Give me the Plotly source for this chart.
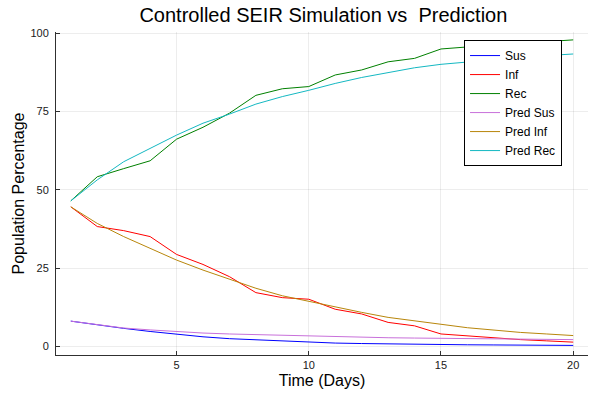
import plotly.graph_objects as go

# Days of the simulation
days = list(range(1, 21))

# Simulated (controlled SEIR) trajectories, in % of population
sus = [8.1, 6.9, 5.8, 4.8, 3.9, 3.1, 2.5, 2.1, 1.7, 1.3,
       1.1, 0.95, 0.8, 0.7, 0.6, 0.55, 0.5, 0.45, 0.4, 0.35]
inf = [44.6, 38.3, 37.0, 35.1, 29.4, 26.2, 22.3, 17.2, 15.6, 15.1,
       11.9, 10.4, 7.7, 6.6, 4.0, 3.4, 2.7, 2.2, 1.8, 1.4]
rec = [46.5, 54.2, 56.8, 59.3, 66.2, 70.0, 74.5, 80.2, 82.3, 83.0,
       86.7, 88.3, 90.9, 92.0, 95.0, 95.7, 96.3, 96.8, 97.3, 97.9]

# Model predictions
pred_sus = [8.1, 6.9, 5.9, 5.3, 4.7, 4.3, 4.0, 3.8, 3.6, 3.3,
            3.0, 2.9, 2.8, 2.7, 2.6, 2.5, 2.4, 2.35, 2.3, 2.2]
pred_inf = [44.6, 39.3, 35.1, 31.3, 27.6, 24.4, 21.6, 18.6, 16.2, 14.4,
            12.5, 10.9, 9.3, 8.1, 7.1, 6.0, 5.2, 4.5, 4.0, 3.5]
pred_rec = [46.5, 53.2, 59.0, 63.3, 67.5, 71.3, 74.2, 77.4, 79.8, 81.8,
            84.0, 85.9, 87.5, 89.0, 90.1, 90.9, 91.7, 92.3, 92.9, 93.4]

x_ticks = [5, 10, 15, 20]
y_ticks = [0, 25, 50, 75, 100]

series = [
    ("Sus", sus, "#0000FF"),
    ("Inf", inf, "#FF0000"),
    ("Rec", rec, "#008000"),
    ("Pred Sus", pred_sus, "#C870DA"),
    ("Pred Inf", pred_inf, "#B8860B"),
    ("Pred Rec", pred_rec, "#14B8C2"),
]

general_config = {
    "displayModeBar": False,  # no toolbar over the title
    "displaylogo": False,
}

fig = go.Figure()

for name, vals, col in series:
    fig.add_trace(
        go.Scatter(
            x=days,
            y=vals,
            mode="lines",
            name=name,
            line=dict(color=col, width=1),
        )
    )

axis_font = dict(family="Liberation Sans", size=11, color="#202020")
title_font = dict(family="Liberation Sans", size=16, color="black")

fig.update_layout(
    width=600,
    height=400,
    title=dict(
        text="Controlled SEIR Simulation vs  Prediction",
        x=0.539,
        xanchor="center",
        y=0.963,
        yanchor="middle",
        font=dict(family="Liberation Sans", size=20, color="black"),
    ),
    xaxis=dict(
        title=dict(text="Time (Days)", font=title_font, standoff=4),
        range=[0.44, 20.56],
        tickvals=x_ticks,
        ticks="inside",
        ticklen=4,
        tickcolor="#303030",
        tickfont=axis_font,
        showgrid=True,
        gridcolor="rgba(0,0,0,0.07)",
        showline=True,
        linecolor="#303030",
        linewidth=1,
        zeroline=False,
        automargin=False,
    ),
    yaxis=dict(
        title=dict(text="Population Percentage", font=title_font, standoff=1),
        range=[-2.71, 100.42],
        tickvals=y_ticks,
        ticks="inside",
        ticklen=4,
        tickcolor="#303030",
        tickfont=axis_font,
        ticklabelstandoff=4,
        showgrid=True,
        gridcolor="rgba(0,0,0,0.07)",
        showline=True,
        linecolor="#303030",
        linewidth=1,
        zeroline=False,
        automargin=False,
    ),
    legend=dict(
        x=0.767,
        y=0.975,
        xanchor="left",
        yanchor="top",
        bgcolor="white",
        bordercolor="black",
        borderwidth=1,
        font=dict(family="Liberation Sans", size=12, color="black"),
        tracegroupgap=0,
    ),
    plot_bgcolor="white",
    paper_bgcolor="white",
    margin=dict(l=56, r=12, t=32, b=45, autoexpand=False),
)

# drop the default 8px body margin so the figure sits at the page corner
fig.write_html(
    "out.html",
    config=general_config,
    post_script="document.body.style.margin = '0';",
)
